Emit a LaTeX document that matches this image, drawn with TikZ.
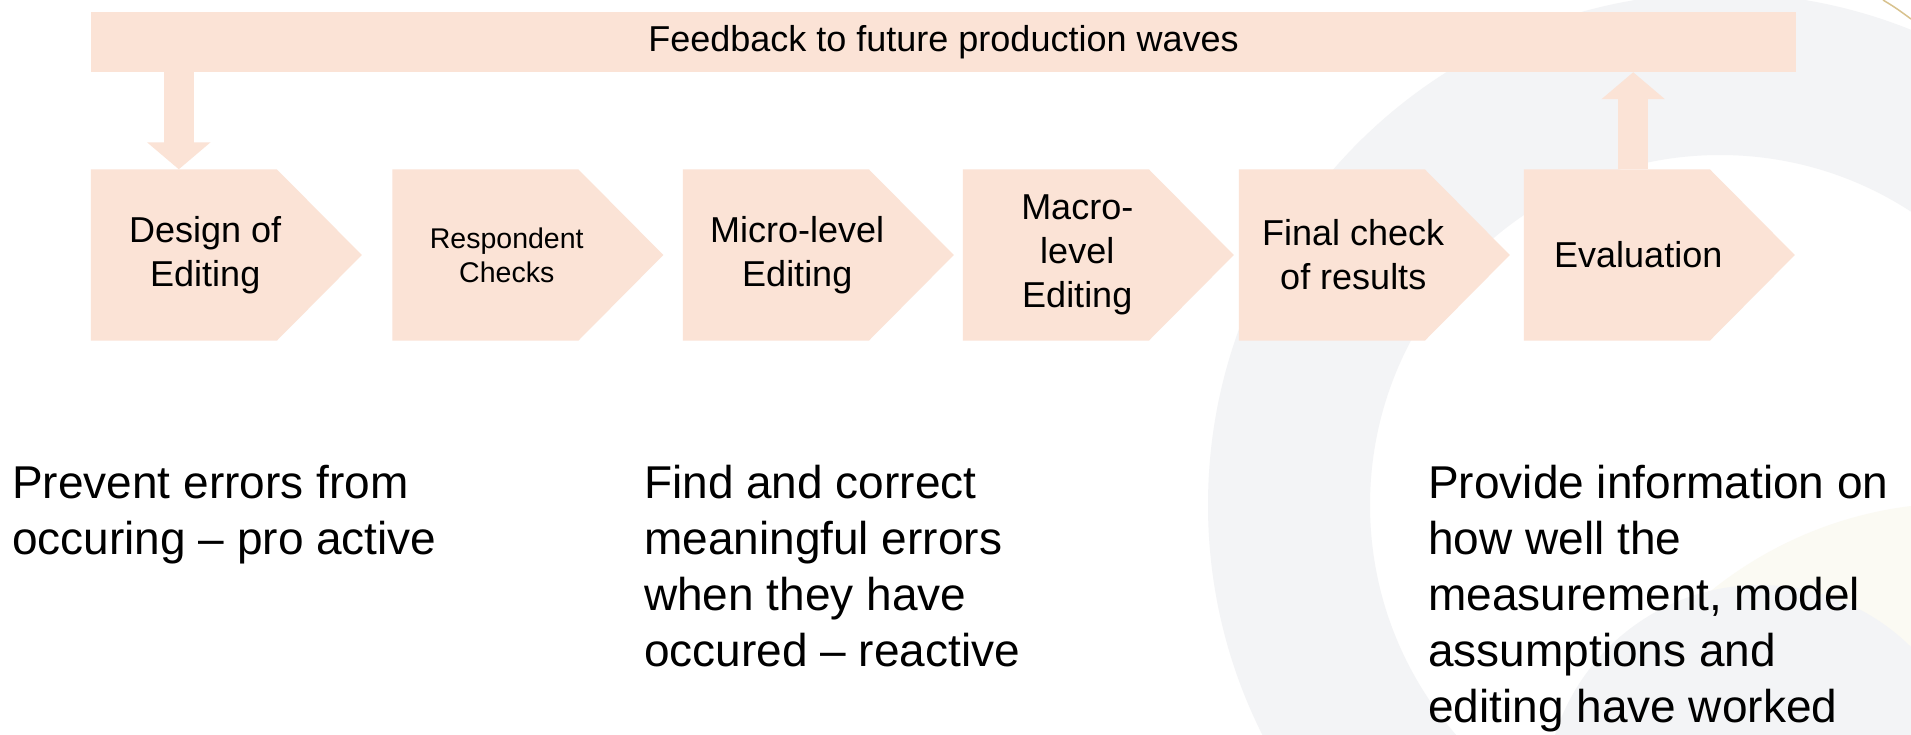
\documentclass[tikz,border=0pt]{standalone}
\usepackage{fontspec}
\setmainfont{Liberation Sans}
\usepackage{tikz}
\usetikzlibrary{arrows.meta, backgrounds}
\definecolor{peach}{HTML}{FBE3D6}
\definecolor{ringgray}{HTML}{F3F4F6}
\definecolor{cream}{HTML}{FBFAF3}
\definecolor{gold}{HTML}{D8C28E}
\tikzset{
  base/.style={inner sep=0pt, align=center, text=black},
  bar/.style={base, fill=peach, minimum width=1705pt, minimum height=60.5pt, font={\fontsize{36}{44}\selectfont}},
  stepbox/.style={base, minimum width=228.5pt, minimum height=171pt, font={\fontsize{36}{44}\selectfont}},
  stepbox_small/.style={stepbox, font={\fontsize{28.5}{34}\selectfont}},
  % notes are anchored at the baseline of their last line
  notes/.style={inner sep=0pt, anchor=base west, align=left, font={\fontsize{46}{56}\selectfont}},
  % ----------------------------------------------------------------------------
  % block arrows to and from the feedback bar
  fb/.style={draw=peach, line width=30pt, -{Triangle[width=62pt, length=27pt]}}
}

\begin{document}
\begin{tikzpicture}[x=1pt, y=-1pt]
\useasboundingbox (0,0) rectangle (1911,734);

% -------------------------------------------------
% Background shapes
\begin{scope}[on background layer]
  \clip (0,0) rectangle (1911,734);
  \fill[white] (0,0) rectangle (1911,734);
  \fill[cream] (1960,900) circle[radius=397];
  \fill[ringgray] (1760,800) circle[radius=215];
  \fill[ringgray, even odd rule] (1720,505) circle[radius=512] (1720,505) circle[radius=350];
  \draw[gold, line width=1.5pt] (1883,0) .. controls (1896,8) .. (1911,19);
\end{scope}

% -------------------------------------------------
% Feedback bar and the steps
\node [bar] (feedback) at (943.5,41.75) {Feedback to future production waves};

\node [stepbox] (design) at (205.25,255) {Design of\\Editing};
\node [stepbox_small] (respondent) at (506.75,255) {Respondent\\Checks};
\node [stepbox] (micro) at (797.25,255) {Micro-level\\Editing};
\node [stepbox] (macro) at (1077.25,255) {Macro-\\level\\Editing};
\node [stepbox] (final) at (1353.25,255) {Final check\\of results};
\node [stepbox] (evaluation) at (1638.25,255) {Evaluation};

% chevron fills behind the step texts
\begin{scope}[on background layer]
  \foreach \s in {design, respondent, micro, macro, final, evaluation}
    \fill[peach] (\s.north west) -- ([xshift=186pt]\s.north west) -- ([xshift=271pt]\s.west)
      -- ([xshift=186pt]\s.south west) -- (\s.south west) -- cycle;
\end{scope}

\draw[fb] ([xshift=88pt]feedback.south west) -- ([xshift=88pt]design.north west);
\draw[fb] ([xshift=109.4pt]evaluation.north west) -- ([xshift=109.4pt]evaluation.north west |- feedback.south);

% notes
\node [notes] (prevent) at (12,554) {Prevent errors from\\occuring -- pro active};
\node [notes] (correct) at (644,666) {Find and correct\\meaningful errors\\when they have\\occured -- reactive};
\node [notes] (inform) at (1428,722) {Provide information on\\how well the\\measurement, model\\assumptions and\\editing have worked};

\end{tikzpicture}
\end{document}
